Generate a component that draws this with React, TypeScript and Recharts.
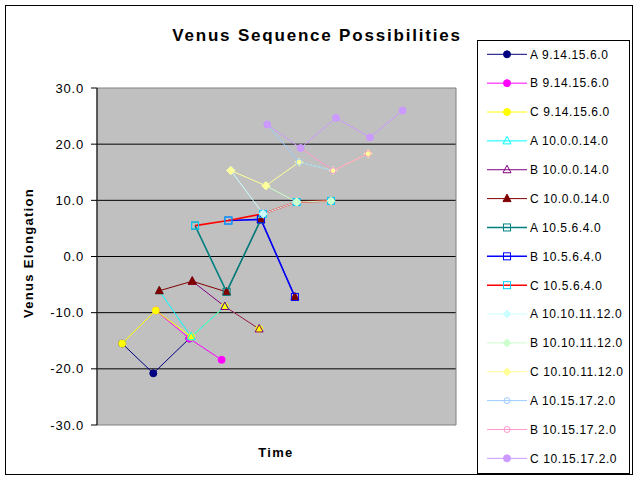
import React from 'react';
import { LineChart, Line, XAxis, YAxis, CartesianGrid, ReferenceArea, Legend } from 'recharts';

const FONT = "'Liberation Sans', Arial, Helvetica, sans-serif";

// ---- data ----
const seriesNames = [
  'A 9.14.15.6.0', 'B 9.14.15.6.0', 'C 9.14.15.6.0',
  'A 10.0.0.14.0', 'B 10.0.0.14.0', 'C 10.0.0.14.0',
  'A 10.5.6.4.0', 'B 10.5.6.4.0', 'C 10.5.6.4.0',
  'A 10.10.11.12.0', 'B 10.10.11.12.0', 'C 10.10.11.12.0',
  'A 10.15.17.2.0', 'B 10.15.17.2.0', 'C 10.15.17.2.0',
];

const a91415_x = [0.05, 0.93, 1.95];
const a91415_y = [-15.5, -20.8, -14.6];
const b91415_x = [1.0, 1.95, 2.86];
const b91415_y = [-9.6, -14.6, -18.4];
const c91415_x = [0.05, 1.0, 2.0, 2.95, 3.92];
const c91415_y = [-15.5, -9.6, -14.3, -8.9, -12.9];

const a100014_x = [1.1, 2.0, 2.95];
const a100014_y = [-6.1, -14.3, -8.9];
const b100014_x = [2.03, 2.95, 3.92];
const b100014_y = [-4.4, -8.9, -12.9];
const c100014_x = [1.1, 2.03, 3.0, 3.97, 4.93];
const c100014_y = [-6.1, -4.4, -6.3, 6.6, -7.2];

const a10564_x = [2.11, 3.0, 3.97];
const a10564_y = [5.5, -6.3, 6.6];
const b10564_x = [3.05, 3.97, 4.93];
const b10564_y = [6.4, 6.6, -7.2];
const c10564_x = [2.11, 3.05, 4.03, 4.98, 5.95];
const c10564_y = [5.5, 6.4, 7.6, 9.7, 9.9];

const a10101112_x = [3.12, 4.03, 4.98];
const a10101112_y = [15.3, 7.6, 9.7];
const b10101112_x = [4.11, 4.98, 5.95];
const b10101112_y = [12.6, 9.7, 9.9];
const c10101112_x = [3.12, 4.11, 5.05, 6.01, 7.0];
const c10101112_y = [15.3, 12.6, 16.8, 15.3, 18.3];

const a1015172_x = [4.15, 5.05, 6.01];
const a1015172_y = [23.5, 16.8, 15.3];
const b1015172_x = [5.09, 6.01, 7.0];
const b1015172_y = [19.3, 15.3, 18.3];
const c1015172_x = [4.15, 5.09, 6.09, 7.05, 7.97];
const c1015172_y = [23.5, 19.3, 24.7, 21.2, 26.0];

const seriesX = [
  a91415_x, b91415_x, c91415_x,
  a100014_x, b100014_x, c100014_x,
  a10564_x, b10564_x, c10564_x,
  a10101112_x, b10101112_x, c10101112_x,
  a1015172_x, b1015172_x, c1015172_x,
];
const seriesY = [
  a91415_y, b91415_y, c91415_y,
  a100014_y, b100014_y, c100014_y,
  a10564_y, b10564_y, c10564_y,
  a10101112_y, b10101112_y, c10101112_y,
  a1015172_y, b1015172_y, c1015172_y,
];

const yTicks = [-30, -20, -10, 0, 10, 20, 30];
const gridValues = [-20, -10, 0, 10, 20];
const xDomain: [number, number] = [-0.66, 9.48];

// ---- styles ----
type Kind = 'circle' | 'circleOpen' | 'tri' | 'triOpen' | 'squareOpen' | 'diamond';
const lineColors = [
  '#000080', '#FF00FF', '#FFFF00',
  '#00FFFF', '#800080', '#800000',
  '#008080', '#0000FF', '#FF0000',
  '#CCFFFF', '#CCFFCC', '#FFFF99',
  '#99CCFF', '#FF99CC', '#CC99FF',
];
const markerColors = [
  '#000080', '#FF00FF', '#FFFF00',
  '#00FFFF', '#800080', '#800000',
  '#008080', '#0000FF', '#00CCFF',
  '#CCFFFF', '#CCFFCC', '#FFFF99',
  '#99CCFF', '#FF99CC', '#CC99FF',
];
const markerKinds: Kind[] = [
  'circle', 'circle', 'circle',
  'triOpen', 'triOpen', 'tri',
  'squareOpen', 'squareOpen', 'squareOpen',
  'diamond', 'diamond', 'diamond',
  'circleOpen', 'circleOpen', 'circle',
];
const lineWidths = [1, 1, 1, 1, 1, 1, 1.6, 1.6, 1.6, 1, 1, 1, 1, 1, 1];

function marker(kind: Kind, color: string, cx: number, cy: number, key: string) {
  switch (kind) {
    case 'circle':
      return <circle key={key} cx={cx} cy={cy} r={3.5} fill={color} stroke={color} strokeWidth={1} />;
    case 'circleOpen':
      return <circle key={key} cx={cx} cy={cy} r={3} fill="none" stroke={color} strokeWidth={1} />;
    case 'tri':
      return <polygon key={key} points={`${cx},${cy - 4.5} ${cx - 4},${cy + 3} ${cx + 4},${cy + 3}`} fill={color} stroke={color} strokeWidth={1} />;
    case 'triOpen':
      return <polygon key={key} points={`${cx},${cy - 4.5} ${cx - 4},${cy + 3} ${cx + 4},${cy + 3}`} fill="none" stroke={color} strokeWidth={1} />;
    case 'squareOpen':
      return <rect key={key} x={cx - 3.5} y={cy - 3.5} width={7} height={7} fill="none" stroke={color} strokeWidth={1} />;
    case 'diamond':
      return <polygon key={key} points={`${cx},${cy - 4} ${cx + 4},${cy} ${cx},${cy + 4} ${cx - 4},${cy}`} fill={color} stroke={color} strokeWidth={1} />;
  }
  return <g key={key} />;
}

const LegendBox = () => {
  const rowH = 28.86;
  return (
    <svg width={154} height={435} style={{ display: 'block' }}>
      <rect x={0.5} y={0.5} width={152} height={433} fill="#FFFFFF" stroke="#000000" strokeWidth={1} />
      {seriesNames.map((name, i) => {
        const y = 14.3 + rowH * i;
        return (
          <g key={name}>
            <line x1={10} x2={50} y1={y} y2={y} stroke={lineColors[i]} strokeWidth={lineWidths[i]} />
            {marker(markerKinds[i], markerColors[i], 30, y, 'm' + i)}
            <text x={53} y={y} dy="0.36em" fontSize={12} letterSpacing={0.6} fontFamily={FONT} fill="#000">{name}</text>
          </g>
        );
      })}
    </svg>
  );
};

export default function App() {
  const data = seriesNames.map((_, i) => seriesX[i].map((x, j) => ({ x, y: seriesY[i][j] })));
  return (
    <div style={{ position: 'absolute', left: 0, top: 0, width: 640, height: 480, background: '#FFFFFF', fontFamily: FONT }}>
      <LineChart width={640} height={480} margin={{ top: 88, right: 184, bottom: 55, left: 0 }}>
        <CartesianGrid fill="#C0C0C0" stroke="#000000" vertical={false} horizontalValues={gridValues} />
        <XAxis type="number" dataKey="x" domain={xDomain} allowDataOverflow hide />
        <YAxis
          type="number"
          domain={[-30, 30]}
          ticks={yTicks}
          interval={0}
          width={97}
          allowDataOverflow
          tickFormatter={(v: number) => v.toFixed(1)}
          tick={{ fontSize: 13, fill: '#000', fontFamily: FONT, letterSpacing: 0.8 }}
          axisLine={{ stroke: '#000' }}
          tickLine={{ stroke: '#000' }}
          tickSize={6}
          tickMargin={7}
        />
        <ReferenceArea x1={xDomain[0]} x2={xDomain[1]} y1={-30} y2={30} fill="none" stroke="#808080" strokeWidth={1} />
        {seriesNames.map((name, i) => (
          <Line
            key={name}
            name={name}
            data={data[i]}
            dataKey="y"
            type="linear"
            stroke={lineColors[i]}
            strokeWidth={lineWidths[i]}
            isAnimationActive={false}
            activeDot={false}
            dot={(p: any) => marker(markerKinds[i], markerColors[i], p.cx, p.cy, `d-${i}-${p.index}`)}
          />
        ))}
        <Legend
          layout="vertical"
          align="center"
          verticalAlign="middle"
          content={() => <LegendBox />}
          wrapperStyle={{ left: 477, top: 40, width: 154, height: 435 }}
        />
      </LineChart>
      <svg width={640} height={480} style={{ position: 'absolute', left: 0, top: 0, pointerEvents: 'none' }}>
        <rect x={5.5} y={5.5} width={627} height={469} fill="none" stroke="#000" strokeWidth={1} />
        <text x={317} y={41} textAnchor="middle" fontSize={17} fontWeight="bold" letterSpacing={1.8} fontFamily={FONT} fill="#000">
          Venus Sequence Possibilities
        </text>
        <text x={276} y={457} textAnchor="middle" fontSize={13} fontWeight="bold" letterSpacing={1.3} fontFamily={FONT} fill="#000">
          Time
        </text>
        <text transform="translate(33,253) rotate(-90)" textAnchor="middle" fontSize={13} fontWeight="bold" letterSpacing={1.3} fontFamily={FONT} fill="#000">
          Venus Elongation
        </text>
      </svg>
    </div>
  );
}
